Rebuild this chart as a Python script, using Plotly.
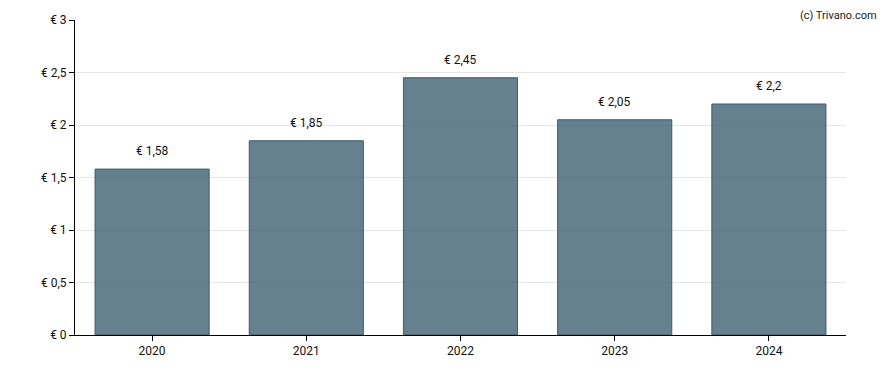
import plotly.graph_objects as go

years = ["2020", "2021", "2022", "2023", "2024"]
values = [1.58, 1.85, 2.45, 2.05, 2.2]
y_ticks = [0, 0.5, 1, 1.5, 2, 2.5, 3]
y_tick_labels = ["€ 0", "€ 0,5", "€ 1", "€ 1,5", "€ 2", "€ 2,5", "€ 3"]
bar_labels = ["€ " + str(v).replace(".", ",") for v in values]

fig = go.Figure()
fig.add_trace(go.Bar(
    x=years, y=values,
    marker=dict(color="rgba(62,97,115,0.8)", line=dict(color="#3e5a6c", width=1)),
    hoverinfo="skip",
))

for i, (v, t) in enumerate(zip(values, bar_labels)):
    fig.add_annotation(x=i, y=v, text=t, showarrow=False, yanchor="bottom",
                       yshift=9, font=dict(family="Roboto", size=12, color="#111"))

fig.add_annotation(xref="paper", yref="paper", x=1.041, y=1 + 12 / 315, xanchor="right",
                   yanchor="top", borderpad=0, text="(c) Trivano.com", showarrow=False,
                   font=dict(family="Roboto", size=11, color="#222"))

fig.update_layout(
    width=880, height=362,
    margin=dict(l=67, r=42, t=12, b=35),
    paper_bgcolor="white", plot_bgcolor="white",
    bargap=0.26, showlegend=False,
    font=dict(family="Roboto", size=12, color="#111"),
    xaxis=dict(type="category", range=[-0.5, len(years) - 0.5], showline=True,
               linecolor="black", linewidth=1, automargin=False,
               ticks="outside", ticklen=5, tickcolor="black", showgrid=False,
               tickfont=dict(size=12)),
    yaxis=dict(range=[0, 3], tickvals=y_ticks, ticktext=y_tick_labels,
               showline=True, linecolor="black", linewidth=1, ticks="outside",
               ticklen=5, tickcolor="black", showgrid=True, gridcolor="#e6e6e6",
               zeroline=False, automargin=False, tickfont=dict(size=12)),
)

fig.write_html("out.html")
